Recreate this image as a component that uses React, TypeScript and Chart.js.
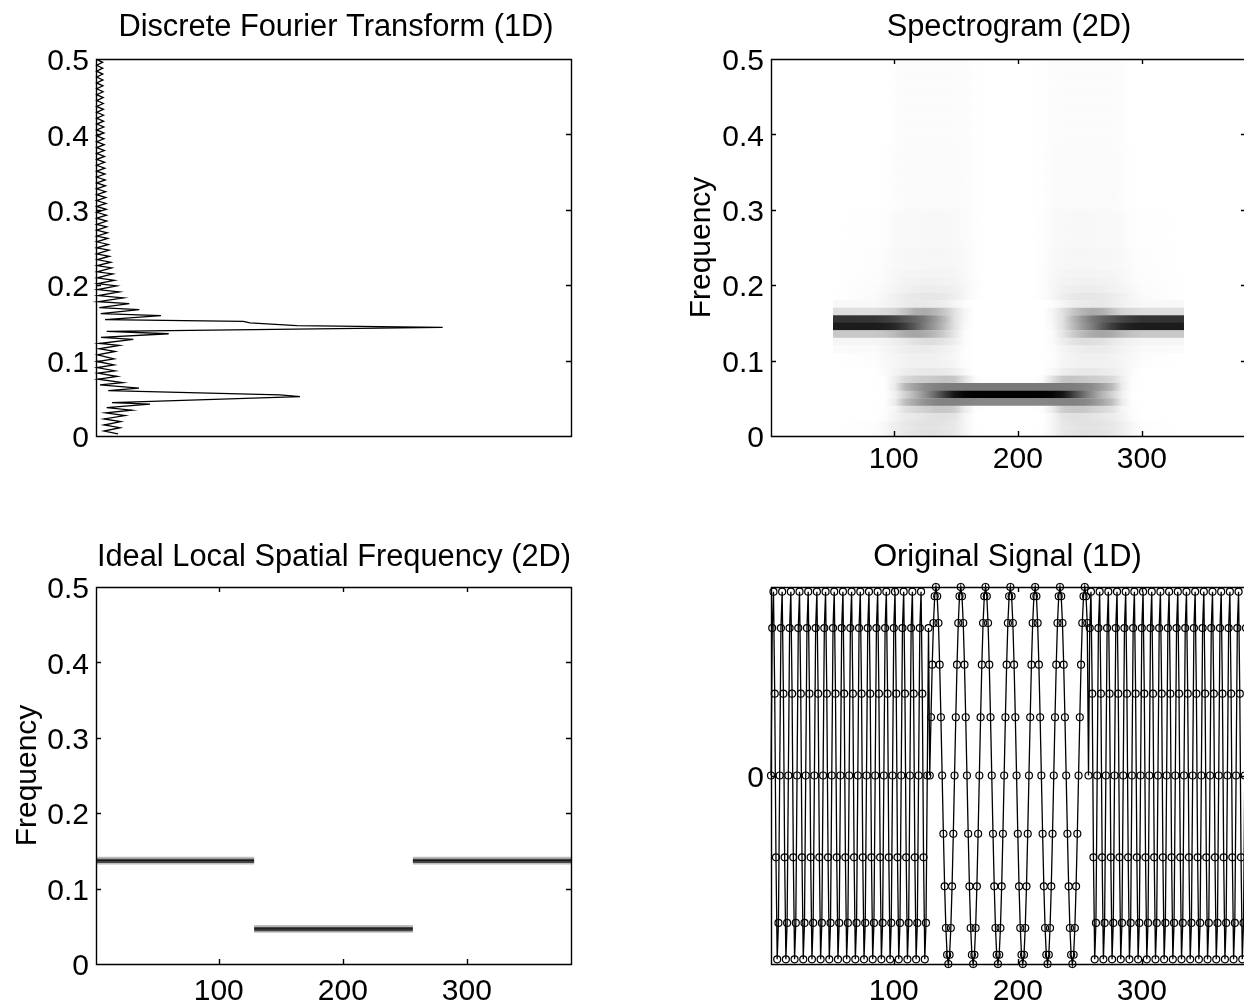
import React, { useEffect, useRef } from "react";
import { Chart, registerables } from "chart.js";

Chart.register(...registerables);

const FONT = '"Liberation Sans", Arial, sans-serif';
const TICK_SIZE = 30;
const TITLE_SIZE = 30.8;

const yFreqTicks = [0, 0.1, 0.2, 0.3, 0.4, 0.5];
const xSampleTicks = [100, 200, 300];
const signalYTicks = [0];

// ---- Discrete Fourier Transform (vertices of the trace)
const dftFreq = [
  0.0027, 0.0066, 0.011, 0.0146, 0.019, 0.0226, 0.027, 0.0306, 0.0342, 0.0376, 0.0422, 0.0443, 0.0523, 0.0545, 0.0602,
  0.0634, 0.0678, 0.0709, 0.0754, 0.0789, 0.0834, 0.0864, 0.0908, 0.0944, 0.0988, 0.1024, 0.1077, 0.1121, 0.1157, 0.1201,
  0.1227, 0.1281, 0.1307, 0.1356, 0.1387, 0.144, 0.1463, 0.1499, 0.152, 0.1543, 0.1596, 0.1622, 0.1676, 0.1702, 0.1755,
  0.1782, 0.1831, 0.1862, 0.1911, 0.1941, 0.1991, 0.2021, 0.2065, 0.2097, 0.215, 0.2177, 0.223, 0.2261, 0.2305, 0.234,
  0.2384, 0.2416, 0.2464, 0.2496, 0.254, 0.2576, 0.262, 0.265, 0.2695, 0.273, 0.2775, 0.2806, 0.285, 0.2889, 0.2928,
  0.2967, 0.3006, 0.3045, 0.3084, 0.3123, 0.3162, 0.3201, 0.324, 0.3279, 0.3318, 0.3357, 0.3396, 0.3435, 0.3474, 0.3513,
  0.3552, 0.3591, 0.363, 0.3669, 0.3708, 0.3747, 0.3786, 0.3825, 0.3864, 0.3903, 0.3942, 0.3981, 0.402, 0.4059, 0.4098,
  0.4137, 0.4176, 0.4215, 0.4254, 0.4293, 0.4332, 0.4371, 0.441, 0.4449, 0.4488, 0.4527, 0.4566, 0.4605, 0.4644, 0.4683,
  0.4722, 0.4761, 0.48, 0.4839, 0.4878, 0.4917, 0.4956, 0.4995,
];
const dftMagnitude = [
  23, 9, 25, 9, 25.7, 9, 30, 10.7, 36.7, 11.7, 55, 17, 205, 185, 13.3,
  44, 5, 27.7, 3, 22.3, 3, 20, 2.3, 19, 2.3, 19, 2.5, 20, 4, 24.3,
  4.3, 38.3, 6, 73.7, 11.7, 347.7, 201.7, 155, 148.3, 10, 66, 5.7, 44.3, 4.3, 34.3,
  3.3, 28.3, 3.3, 24.3, 2.7, 21.7, 2.7, 19.3, 2.3, 17.7, 2.3, 16.7, 2.3, 15.7, 2.3,
  14.3, 1.7, 14, 1.7, 13.3, 1.7, 12.7, 1.7, 12.3, 1.7, 11.7, 1.7, 11.7, 1.7, 11.4,
  1.6, 11.2, 1.7, 11, 1.6, 10.8, 1.7, 10.6, 1.6, 10.4, 1.7, 10.2, 1.6, 10, 1.7,
  9.8, 1.6, 9.6, 1.7, 9.5, 1.6, 9.3, 1.7, 9.2, 1.6, 9, 1.7, 8.9, 1.6, 8.8,
  1.7, 8.6, 1.6, 8.5, 1.7, 8.4, 1.6, 8.3, 1.7, 8.2, 1.6, 8.1, 1.7, 8, 1.6,
  7.9, 1.7, 7.8, 1.6, 7.7, 1.7, 7.6, 1.6,
];

// ---- Spectrogram: grey level per frequency row, sampled at these window positions (left half, image mirrors about 192.5)
const specColumns = [51, 85, 93, 101, 109, 117, 125, 133, 141, 149, 157, 165, 174];
const specFaintA = [255, 255, 255, 253, 251, 251, 251, 251, 251, 251, 252, 254, 255];
const specFaintB = [255, 255, 254, 252, 250, 250, 250, 250, 250, 250, 251, 254, 255];
const specFaintC = [255, 254, 253, 250, 249, 249, 248, 248, 248, 249, 250, 253, 255];
const specFaintD = [255, 253, 251, 249, 247, 247, 246, 246, 246, 247, 249, 253, 255];
const specFreq = [
  0.495, 0.485, 0.475, 0.465, 0.455, 0.445, 0.435, 0.425, 0.415, 0.405, 0.395, 0.385, 0.375, 0.365, 0.355, 0.345, 0.335,
  0.325, 0.315, 0.305, 0.295, 0.285, 0.275, 0.265, 0.255, 0.245, 0.235, 0.225, 0.215, 0.205, 0.195, 0.185, 0.175, 0.165,
  0.155, 0.145, 0.135, 0.125, 0.115, 0.105, 0.095, 0.085, 0.075, 0.065, 0.055, 0.045, 0.035, 0.025, 0.015, 0.005,
];
const specGray = [
  specFaintA, specFaintA, specFaintA, specFaintA, specFaintA, specFaintA, specFaintA, specFaintA, specFaintA, specFaintA,
  specFaintA, specFaintA, specFaintB, specFaintB, specFaintB, specFaintB, specFaintB, specFaintB, specFaintB, specFaintB,
  specFaintC, specFaintC, specFaintC, specFaintC, specFaintC, specFaintD, specFaintD, specFaintD,
  [255, 252, 250, 247, 245, 244, 244, 244, 244, 245, 248, 252, 255],
  [255, 252, 250, 246, 243, 242, 241, 241, 242, 243, 247, 252, 255],
  [255, 251, 248, 244, 241, 238, 237, 237, 238, 241, 246, 252, 255],
  [255, 250, 246, 240, 235, 232, 230, 230, 232, 238, 246, 252, 255],
  [248, 248, 245, 240, 236, 232, 232, 235, 238, 245, 252, 255, 255],
  [222, 222, 218, 212, 195, 175, 170, 180, 200, 225, 245, 255, 255],
  [50, 52, 60, 70, 85, 100, 120, 150, 185, 225, 245, 255, 255],
  [28, 28, 30, 40, 60, 90, 125, 155, 190, 225, 248, 255, 255],
  [200, 200, 195, 185, 170, 165, 170, 185, 205, 230, 250, 255, 255],
  [245, 245, 243, 238, 232, 225, 222, 222, 228, 238, 250, 255, 255],
  [251, 250, 246, 242, 238, 235, 235, 237, 240, 245, 252, 255, 255],
  [255, 252, 248, 245, 242, 240, 240, 240, 243, 247, 253, 255, 255],
  [255, 253, 249, 245, 242, 240, 240, 240, 242, 245, 252, 255, 255],
  [255, 255, 250, 243, 238, 235, 232, 232, 234, 238, 248, 255, 255],
  [255, 255, 253, 238, 218, 208, 205, 200, 196, 200, 225, 250, 255],
  [255, 255, 253, 235, 185, 160, 140, 130, 125, 123, 122, 122, 122],
  [255, 255, 254, 240, 210, 180, 145, 105, 60, 20, 5, 1, 0],
  [255, 255, 253, 235, 190, 165, 145, 133, 130, 130, 132, 134, 135],
  [255, 255, 253, 245, 225, 215, 208, 200, 200, 205, 235, 252, 255],
  [255, 255, 252, 243, 236, 232, 228, 225, 225, 228, 245, 255, 255],
  [255, 253, 247, 238, 232, 228, 226, 226, 228, 232, 245, 254, 255],
  [255, 253, 247, 238, 232, 228, 226, 226, 228, 232, 245, 254, 255],
];

// ---- Ideal local spatial frequency
const idealSegments = [
  { from: 1, to: 128.5, rows: [0.133, 0.135, 0.137, 0.139, 0.141] },
  { from: 128.5, to: 256.5, rows: [0.0425, 0.0445, 0.0465, 0.0485, 0.0505] },
  { from: 256.5, to: 384, rows: [0.133, 0.135, 0.137, 0.139, 0.141] },
];
const idealGray = [190, 70, 20, 70, 190];

// ---- Original signal, sample 1..384
const signalFast1 = [
  0, 0.782, 0.975, 0.434, -0.434, -0.975, -0.782, 0, 0.782, 0.975, 0.434, -0.434, -0.975, -0.782,
  0, 0.782, 0.975, 0.434, -0.434, -0.975, -0.782, 0, 0.782, 0.975, 0.434, -0.434, -0.975, -0.782,
  0, 0.782, 0.975, 0.434, -0.434, -0.975, -0.782, 0, 0.782, 0.975, 0.434, -0.434, -0.975, -0.782,
  0, 0.782, 0.975, 0.434, -0.434, -0.975, -0.782, 0, 0.782, 0.975, 0.434, -0.434, -0.975, -0.782,
  0, 0.782, 0.975, 0.434, -0.434, -0.975, -0.782, 0, 0.782, 0.975, 0.434, -0.434, -0.975, -0.782,
  0, 0.782, 0.975, 0.434, -0.434, -0.975, -0.782, 0, 0.782, 0.975, 0.434, -0.434, -0.975, -0.782,
  0, 0.782, 0.975, 0.434, -0.434, -0.975, -0.782, 0, 0.782, 0.975, 0.434, -0.434, -0.975, -0.782,
  0, 0.782, 0.975, 0.434, -0.434, -0.975, -0.782, 0, 0.782, 0.975, 0.434, -0.434, -0.975, -0.782,
  0, 0.782, 0.975, 0.434, -0.434, -0.975, -0.782, 0, 0.782, 0.975, 0.434, -0.434, -0.975, -0.782,
  0, 0.782,
];
const signalSlow = [
  0, 0.309, 0.588, 0.809, 0.951, 1, 0.951, 0.809, 0.588, 0.309, 0, -0.309, -0.588, -0.809, -0.951, -1, -0.951, -0.809, -0.588, -0.309,
  0, 0.309, 0.588, 0.809, 0.951, 1, 0.951, 0.809, 0.588, 0.309, 0, -0.309, -0.588, -0.809, -0.951, -1, -0.951, -0.809, -0.588, -0.309,
  0, 0.309, 0.588, 0.809, 0.951, 1, 0.951, 0.809, 0.588, 0.309, 0, -0.309, -0.588, -0.809, -0.951, -1, -0.951, -0.809, -0.588, -0.309,
  0, 0.309, 0.588, 0.809, 0.951, 1, 0.951, 0.809, 0.588, 0.309, 0, -0.309, -0.588, -0.809, -0.951, -1, -0.951, -0.809, -0.588, -0.309,
  0, 0.309, 0.588, 0.809, 0.951, 1, 0.951, 0.809, 0.588, 0.309, 0, -0.309, -0.588, -0.809, -0.951, -1, -0.951, -0.809, -0.588, -0.309,
  0, 0.309, 0.588, 0.809, 0.951, 1, 0.951, 0.809, 0.588, 0.309, 0, -0.309, -0.588, -0.809, -0.951, -1, -0.951, -0.809, -0.588, -0.309,
  0, 0.309, 0.588, 0.809, 0.951, 1, 0.951, 0.809,
];
const signalFast2 = [
  0, 0.782, 0.975, 0.434, -0.434, -0.975, -0.782, 0, 0.782, 0.975, 0.434, -0.434, -0.975, -0.782,
  0, 0.782, 0.975, 0.434, -0.434, -0.975, -0.782, 0, 0.782, 0.975, 0.434, -0.434, -0.975, -0.782,
  0, 0.782, 0.975, 0.434, -0.434, -0.975, -0.782, 0, 0.782, 0.975, 0.434, -0.434, -0.975, -0.782,
  0, 0.782, 0.975, 0.434, -0.434, -0.975, -0.782, 0, 0.782, 0.975, 0.434, -0.434, -0.975, -0.782,
  0, 0.782, 0.975, 0.434, -0.434, -0.975, -0.782, 0, 0.782, 0.975, 0.434, -0.434, -0.975, -0.782,
  0, 0.782, 0.975, 0.434, -0.434, -0.975, -0.782, 0, 0.782, 0.975, 0.434, -0.434, -0.975, -0.782,
  0, 0.782, 0.975, 0.434, -0.434, -0.975, -0.782, 0, 0.782, 0.975, 0.434, -0.434, -0.975, -0.782,
  0, 0.782, 0.975, 0.434, -0.434, -0.975, -0.782, 0, 0.782, 0.975, 0.434, -0.434, -0.975, -0.782,
  0, 0.782, 0.975, 0.434, -0.434, -0.975, -0.782, 0, 0.782, 0.975, 0.434, -0.434, -0.975, -0.782,
  0, 0.782,
];

const grayCss = (g: number) => `rgb(${g},${g},${g})`;

// Frame with MATLAB style inward ticks on all four sides, at the positions of the scale's own ticks.
const framePlugin = {
  id: "matlabFrame",
  afterDraw(chart: any) {
    const { ctx, chartArea: a, scales } = chart;
    const T = 5;
    ctx.save();
    ctx.strokeStyle = "#000";
    ctx.lineWidth = 1.4;
    ctx.beginPath();
    ctx.rect(a.left + 0.5, a.top + 0.5, a.right - a.left, a.bottom - a.top);
    for (const t of scales.y.ticks) {
      const p = Math.round(scales.y.getPixelForValue(t.value)) + 0.5;
      ctx.moveTo(a.left, p);
      ctx.lineTo(a.left + T, p);
      ctx.moveTo(a.right, p);
      ctx.lineTo(a.right - T, p);
    }
    for (const t of scales.x.ticks) {
      const p = Math.round(scales.x.getPixelForValue(t.value)) + 0.5;
      ctx.moveTo(p, a.top);
      ctx.lineTo(p, a.top + T);
      ctx.moveTo(p, a.bottom);
      ctx.lineTo(p, a.bottom - T);
    }
    ctx.stroke();
    ctx.restore();
  },
};

type Panel = {
  left: number; top: number; width: number; height: number;
  area: { left: number; right: number; top: number; bottom: number };
  title: string; titleCenter: number; titleShift: number;
  yLabel?: string; yLabelPad?: number; xTickPad: number;
  xMin: number; xMax: number; yMin: number; yMax: number;
  xTicks: number[]; yTicks: number[];
  type: "line" | "bar"; datasets: any[];
};

function buildConfig(p: Panel) {
  const titleH = TITLE_SIZE * 1.2;
  const titleTop = p.titleCenter - titleH / 2;
  const titleBottom = p.area.top - titleTop - titleH;
  const xAxisH = 36;
  const titleShiftPlugin = {
    id: "titleShift",
    afterLayout(chart: any) {
      if (chart.titleBlock) {
        chart.titleBlock.left += p.titleShift;
        chart.titleBlock.right += p.titleShift;
      }
    },
  };
  return {
    type: p.type,
    data: { datasets: p.datasets },
    plugins: [framePlugin, titleShiftPlugin],
    options: {
      animation: false,
      responsive: false,
      devicePixelRatio: 1,
      events: [],
      indexAxis: p.type === "bar" ? "y" : "x",
      layout: {
        padding: {
          left: 0, top: 0,
          right: p.width - p.area.right,
          bottom: p.height - p.area.bottom - xAxisH,
        },
      },
      plugins: {
        legend: { display: false },
        tooltip: { enabled: false },
        title: {
          display: true,
          fullSize: false,
          text: p.title,
          color: "#000",
          font: { family: FONT, size: TITLE_SIZE, weight: "normal" },
          padding: { top: titleTop, bottom: titleBottom },
        },
      },
      scales: {
        x: {
          type: "linear",
          position: "bottom",
          min: p.xMin, max: p.xMax,
          offset: false,
          grid: { display: false, drawTicks: false },
          border: { display: false },
          afterBuildTicks: (s: any) => { s.ticks = p.xTicks.map((value) => ({ value })); },
          afterFit: (s: any) => { s.height = xAxisH; },
          ticks: {
            autoSkip: false, maxRotation: 0, padding: p.xTickPad, color: "#000",
            font: { family: FONT, size: TICK_SIZE },
            callback: (v: number) => String(v),
          },
        },
        y: {
          type: "linear",
          position: "left",
          min: p.yMin, max: p.yMax,
          offset: false,
          grid: { display: false, drawTicks: false },
          border: { display: false },
          afterBuildTicks: (s: any) => { s.ticks = p.yTicks.map((value) => ({ value })); },
          afterFit: (s: any) => { s.width = p.area.left; },
          title: p.yLabel
            ? {
                display: true, text: p.yLabel, color: "#000",
                font: { family: FONT, size: TICK_SIZE },
                padding: { top: p.yLabelPad, bottom: 0 },
              }
            : { display: false },
          ticks: {
            autoSkip: false, padding: 7, labelOffset: 3, color: "#000",
            font: { family: FONT, size: TICK_SIZE },
            callback: (v: number) => (v === 0 ? "0" : v.toFixed(1)),
          },
        },
      },
    },
  };
}

const specMirrorColumns = specColumns.map((c) => 385 - c).reverse();

const specBackground = (c: any) => {
  const scale = c.chart.scales.x;
  const x0 = scale.getPixelForValue(51);
  const x1 = scale.getPixelForValue(334);
  if (!c.raw || !Number.isFinite(x0) || !Number.isFinite(x1) || x0 === x1) return "#fff";
  const g = c.chart.ctx.createLinearGradient(x0, 0, x1, 0);
  const span = 334 - 51;
  specColumns.forEach((k, i) => g.addColorStop((k - 51) / span, grayCss(c.raw.gray[i])));
  specMirrorColumns.forEach((k, i) =>
    g.addColorStop((k - 51) / span, grayCss(c.raw.gray[specColumns.length - 1 - i]))
  );
  return g;
};

const panels: Panel[] = [
  {
    left: 0, top: 0, width: 622, height: 500,
    area: { left: 96, right: 571, top: 59, bottom: 436 },
    title: "Discrete Fourier Transform (1D)", titleCenter: 28, titleShift: 2.5, xTickPad: 6,
    xMin: 1, xMax: 476, yMin: 0, yMax: 0.5,
    xTicks: [], yTicks: yFreqTicks,
    type: "line",
    datasets: [{
      data: dftFreq.map((y, i) => ({ x: dftMagnitude[i], y })),
      borderColor: "#000", borderWidth: 1.3, pointRadius: 0, clip: false,
    }],
  },
  {
    left: 622, top: 0, width: 640, height: 500,
    area: { left: 149, right: 624, top: 59, bottom: 436 },
    title: "Spectrogram (2D)", titleCenter: 28, titleShift: 0.5, xTickPad: 6,
    yLabel: "Frequency", yLabelPad: 62,
    xMin: 1, xMax: 384, yMin: 0, yMax: 0.5,
    xTicks: xSampleTicks, yTicks: yFreqTicks,
    type: "bar",
    datasets: [{
      data: specFreq.map((y, i) => ({ x: [51, 334], y, gray: specGray[i] })),
      backgroundColor: specBackground,
      borderWidth: 0, barThickness: 7.8, inflateAmount: 0,
    }],
  },
  {
    left: 0, top: 500, width: 622, height: 501,
    area: { left: 96, right: 571, top: 87, bottom: 464 },
    title: "Ideal Local Spatial Frequency (2D)", titleCenter: 57.5, titleShift: 0.5, xTickPad: 10,
    yLabel: "Frequency", yLabelPad: 10,
    xMin: 1, xMax: 384, yMin: 0, yMax: 0.5,
    xTicks: xSampleTicks, yTicks: yFreqTicks,
    type: "bar",
    datasets: [{
      data: idealSegments.flatMap((seg) =>
        seg.rows.map((y, i) => ({ x: [seg.from, seg.to], y, gray: idealGray[i] }))
      ),
      backgroundColor: (c: any) => (c.raw ? grayCss(c.raw.gray) : "#fff"),
      borderWidth: 0, barThickness: 1.7, inflateAmount: 0,
    }],
  },
  {
    left: 622, top: 500, width: 640, height: 501,
    area: { left: 149, right: 624, top: 87, bottom: 464 },
    title: "Original Signal (1D)", titleCenter: 57.5, titleShift: -1, xTickPad: 10,
    xMin: 1, xMax: 384, yMin: -1, yMax: 1,
    xTicks: xSampleTicks, yTicks: signalYTicks,
    type: "line",
    datasets: [{
      data: [...signalFast1, ...signalSlow, ...signalFast2].map((y, i) => ({ x: i + 1, y })),
      borderColor: "#000", borderWidth: 1.3,
      pointRadius: 3.5, pointBorderWidth: 1.2, pointBorderColor: "#000",
      pointBackgroundColor: "rgba(0,0,0,0)", clip: false,
    }],
  },
];

function PanelChart({ panel }: { panel: Panel }) {
  const ref = useRef<HTMLCanvasElement>(null);
  useEffect(() => {
    const chart = new Chart(ref.current as any, buildConfig(panel) as any);
    return () => chart.destroy();
  }, [panel]);
  return (
    <canvas
      ref={ref}
      width={panel.width}
      height={panel.height}
      style={{
        position: "absolute", left: panel.left, top: panel.top,
        width: panel.width, height: panel.height, display: "block",
      }}
    />
  );
}

export default function App() {
  return (
    <div style={{ position: "fixed", left: 0, top: 0, width: 1244, height: 1001, overflow: "hidden", background: "#fff" }}>
      {panels.map((p) => (
        <PanelChart key={p.title} panel={p} />
      ))}
    </div>
  );
}
